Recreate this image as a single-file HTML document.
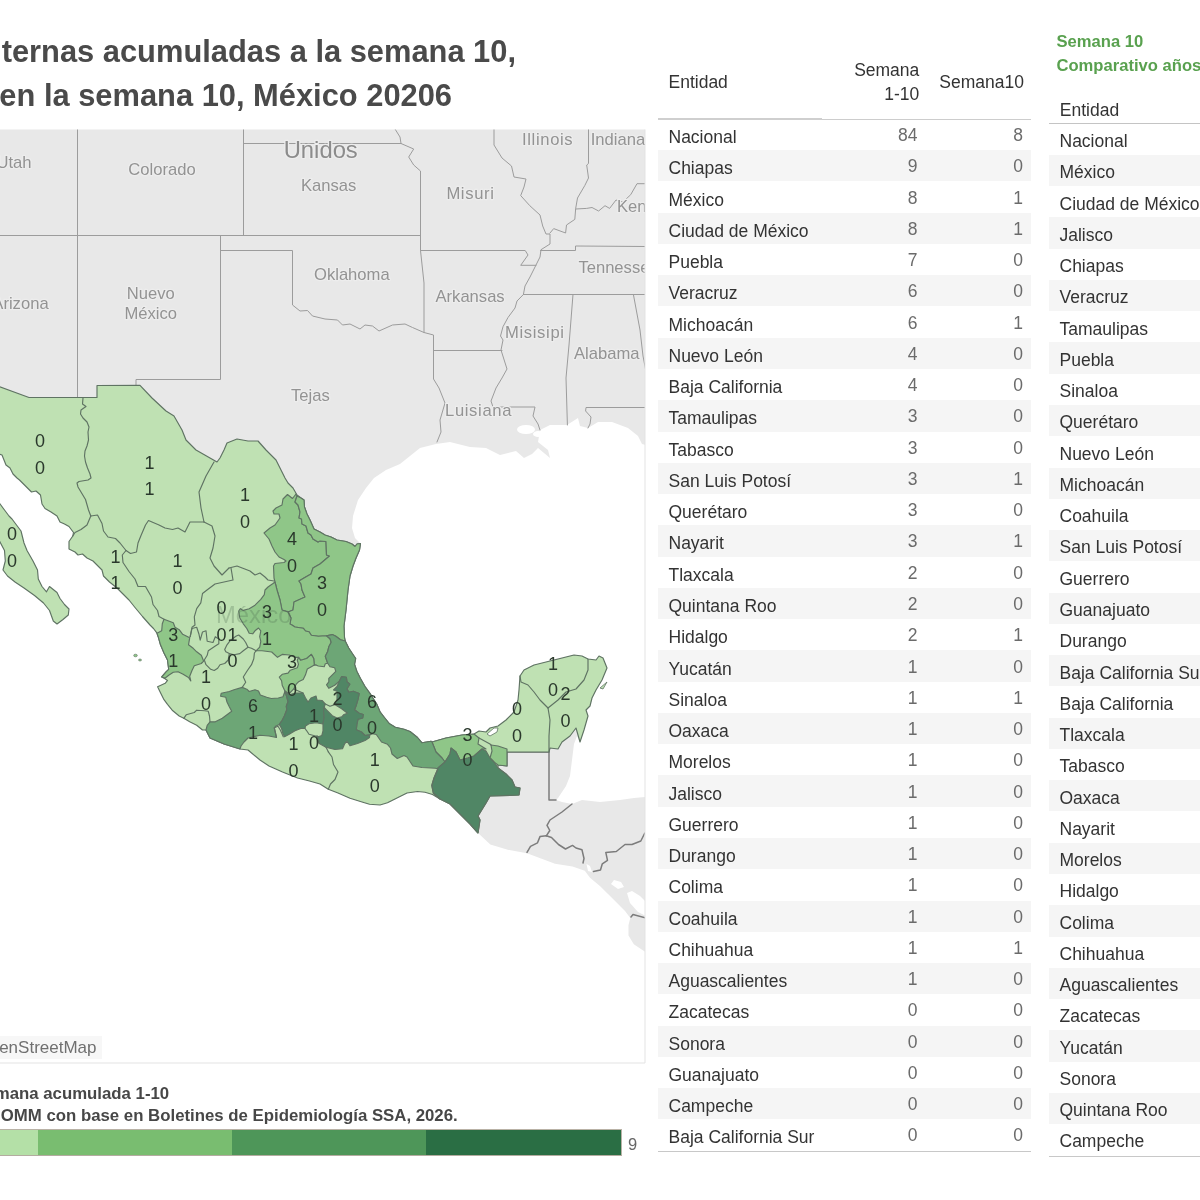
<!DOCTYPE html>
<html lang="es"><head><meta charset="utf-8"><title>Muertes maternas, México 2026</title>
<style>
html,body{margin:0;padding:0;background:#fff}
body{width:1200px;height:1200px;position:relative;overflow:hidden;font-family:"Liberation Sans",sans-serif;color:#333}
.map{position:absolute;left:0;top:0}
.title{position:absolute;white-space:nowrap;font-weight:700;font-size:30.85px;line-height:36px;color:#4a4a4a}
.t1{right:684px;top:33.8px}
.t2{right:748px;top:77.6px}
.lg{position:absolute;white-space:nowrap;font-weight:700;font-size:16.8px;line-height:20px;color:#474747}
.l1{right:1030.8px;top:1084px}
.l2{right:742.3px;top:1106px}
.bar{position:absolute;left:-1px;top:1129px;width:623px;height:25.5px;border-top:1px solid #b9b2a6;border-bottom:1.5px solid #b4aca0;border-right:1px solid #b9b2a6;display:flex;box-sizing:border-box;height:27px}
.bar i{display:block;height:100%}
.nine{position:absolute;left:628px;top:1134.5px;font-size:16.5px;line-height:18px;color:#666}
.osm{position:absolute;left:-60px;top:1035.5px;width:162px;height:23.5px;background:#f7f7f7;color:#707070;font-size:17px;line-height:23.5px;text-align:right;padding:.9px 5.5px 0 0;box-sizing:border-box;white-space:nowrap;overflow:hidden}
.tb{position:absolute;font-size:17.5px}
.tb .r{position:relative;height:31.2727px;white-space:nowrap}
.tb .r.s{background:#f5f5f5}
.tb .n{position:absolute;left:10.5px;top:7.4px;line-height:20px;color:#333}
.tb .a,.tb .b{position:absolute;top:6.1px;line-height:20px;color:#6b6b6b;text-align:right}
.tb .a{right:113.5px} .tb .b{right:8px}
#t1{left:658px;top:118.9px;width:373px}
#t1 .n{top:8.1px}
#t2{left:1049px;top:123.6px;width:160px}
.h{position:absolute;white-space:nowrap;font-size:17.5px;line-height:24px;color:#333}
.ln{position:absolute;height:0}
.gt{position:absolute;left:1056.5px;white-space:nowrap;font-weight:700;font-size:16.6px;line-height:20px;color:#59a14f}
</style></head><body>
<div class="title t1">ternas acumuladas a la semana 10,</div>
<div class="title t2">en la semana 10, México 20206</div>
<svg class="map" width="1200" height="1200" viewBox="0 0 1200 1200"><defs><clipPath id="mc"><rect x="0" y="129.5" width="645" height="933.5"/></clipPath></defs><g clip-path="url(#mc)"><rect x="0" y="129" width="646" height="935" fill="#fff"/><path d="M-1,129 L646,129 L646,445 L642,444 L638,436 L628,428 L612,422 L598,422 L588,428 L580,426 L578,418 L567,425 L550,425 L540,430 L538,442 L548,450 L550,458 L538,448 L532,454 L524,458 L516,451 L500,455 L486,448 L470,447 L450,442 L436,444 L420,448 L410,456 L400,464 L386,470 L374,478 L366,488 L358,500 L353,516 L352,528 L355,538 L360.5,543.5 L360.5,543.5 L359.5,550 L356,558 L353,566 L350,576 L348,590 L346,610 L344,626 L344.5,637.5 L345.2,641 L348.7,648 L353.3,655 L355.7,658.5 L354.5,664.3 L356.8,671.3 L360.3,678.3 L365,686.5 L370.8,694.7 L376.7,704 L380.2,712.2 L384.8,718 L389.5,723.8 L395.3,727.3 L404,729.3 L410,731.5 L417.5,737.5 L422,742.8 L431,741.3 L432,742 L446,738 L462,735 L474,734 L479,731 L486,732 L490,728 L498,726 L506,720 L514,712 L518,700 L519,690 L520,676 L524,670 L534,665 L550,661 L562,658 L574,655 L582,656 L588,659 L596,660 L599,656 L603,658 L607,668 L602,680 L596,690 L592,698 L590,706 L586,710 L588,716 L584,730 L580,742 L577,736 L574,744 L572,760 L570,776 L566,786 L558,798 L556,800 L562,802 L572,804 L582,800 L600,802 L620,800 L634,798 L646,797 L646,952 L644.3,951.3 L633.8,944.3 L628.5,935.5 L628.5,925 L630.3,918 L625,911 L616.3,902.3 L607.5,893.5 L600.5,886.5 L590,877.8 L584.8,870.8 L572.5,866.4 L555,863.8 L541,858.5 L527,853.3 L507.8,849.8 L490.3,844.5 L478,833 L470,824 L460,814 L450,804 L440,799 L432.5,794.5 L425,792.3 L417.5,791.5 L407,793 L398,797.5 L387.5,802.8 L380,805 L369.5,804.3 L362,802 L350,798.3 L338,793 L328.3,789.3 L320,784 L309.5,781 L297.5,778 L282.5,772 L269,766 L260,760 L248,750 L240,749 L224,744 L210,738 L206,730 L202.5,730 L196.7,725.3 L189.7,721.8 L183.8,718.3 L179.2,716 L172.2,710.2 L167.5,704.3 L164,699.7 L160.5,692.7 L157.6,686.8 L165.2,683.3 L167.5,680.4 L165,678.7 L161.7,677 L166.3,671.7 L168.7,669.3 L167.5,660 L164,653 L160.5,644.8 L158.2,636.7 L157,633.2 L153.5,628.5 L150,625 L142.5,616.5 L135,607.5 L129,600 L123,594 L117,588 L109.5,582 L103.5,576 L102,570 L97.5,565.5 L93,561 L87,558 L82.5,554 L78,555 L75,552 L69,549 L69,541.5 L72.8,536 L73.5,532.5 L69,526.5 L64.5,524 L60,522 L57,516 L51,512 L45,508.5 L42,504 L40.5,495 L36,491 L31.5,492 L25.5,486 L19.5,480 L17,478 L13,474 L10,468 L6,465 L4,460 L2,455 L-1,454Z" fill="#e8e8e8"/><path d="M611,884 L614,880 L621,882 L624,887 L618,889Z" fill="#fff"/><path d="M627,893 L632,891 L640,896 L646,902 L646,916 L638,912 L630,903Z" fill="#fff"/><path d="M586.5,864 L590,866 L592,872 L588,871Z" fill="#fff"/><ellipse cx="526" cy="429.5" rx="9" ry="4.5" fill="#fff"/><ellipse cx="538" cy="434" rx="5" ry="3" fill="#fff"/><g><path d="M77.5,129 L77.5,397.5" fill="none" stroke="#9c9c9c" stroke-width="1" stroke-linejoin="round" stroke-linecap="round"/><path d="M-1,235.5 L420.5,235.5" fill="none" stroke="#9c9c9c" stroke-width="1" stroke-linejoin="round" stroke-linecap="round"/><path d="M243.5,129 L243.5,235.5" fill="none" stroke="#9c9c9c" stroke-width="1" stroke-linejoin="round" stroke-linecap="round"/><path d="M243.5,143.5 L401,143.5" fill="none" stroke="#9c9c9c" stroke-width="1" stroke-linejoin="round" stroke-linecap="round"/><path d="M395,129 L400,137 L401,143.5 L413.7,149 L408.7,157 L413.7,165 L420.5,171 L420.5,250.5 L424,283 L424,332.5" fill="none" stroke="#9c9c9c" stroke-width="1" stroke-linejoin="round" stroke-linecap="round"/><path d="M420.5,250.5 L525.2,250.5 L528,255 L520.7,265.3 L536,265.3" fill="none" stroke="#9c9c9c" stroke-width="1" stroke-linejoin="round" stroke-linecap="round"/><path d="M220.5,235.5 L220.5,379.5 L136,379.5 L136,385.4" fill="none" stroke="#9c9c9c" stroke-width="1" stroke-linejoin="round" stroke-linecap="round"/><path d="M220.5,250.5 L292.5,250.5 L292.5,305 L300,311 L307.5,310.5 L312.5,316 L325,319 L337.5,320 L342.5,325 L350,324 L360,329 L365,325 L372.5,326 L379,331 L392.5,325 L405,324 L412.5,327.5 L424,332.5 L433.5,335 L433.5,379 L439,388 L445,403 L440,420 L441,432 L437,442" fill="none" stroke="#9c9c9c" stroke-width="1" stroke-linejoin="round" stroke-linecap="round"/><path d="M433.5,350.5 L502,350.5" fill="none" stroke="#9c9c9c" stroke-width="1" stroke-linejoin="round" stroke-linecap="round"/><path d="M494,129 L494,145 L502,158 L511.5,166 L514,177 L526,179 L524,187 L520.7,195.6 L529.8,205.7 L540,215 L542.7,226 L546,234 L550,234 L550,244 L541,249.7 L540,257 L536,265 L530,277 L525,286 L523.4,294.5 L517,301 L515,308 L508,317.5 L503,326.7 L500.5,336 L503,340 L501,350 L507,369 L502,378 L496,388 L491,401 L493,407 L535,407 L533,416 L538,424 L540,430" fill="none" stroke="#9c9c9c" stroke-width="1" stroke-linejoin="round" stroke-linecap="round"/><path d="M550,233 L553.7,228.6 L565.6,233 L566.5,225 L574.8,219.4 L575.7,208.4 L577.5,198 L584.8,185.5 L588.5,178 L586.7,165 L588.5,163.5 L588.5,129" fill="none" stroke="#9c9c9c" stroke-width="1" stroke-linejoin="round" stroke-linecap="round"/><path d="M575.7,209 L586.7,208.4 L592,207.5 L598.6,211 L605,205.7 L609.6,208.4 L616,200 L623,202 L630.7,194.7 L637,183.7 L646,183.7" fill="none" stroke="#9c9c9c" stroke-width="1" stroke-linejoin="round" stroke-linecap="round"/><path d="M540.5,250.5 L575.5,250.5 L575.5,246 L646,246.5" fill="none" stroke="#9c9c9c" stroke-width="1" stroke-linejoin="round" stroke-linecap="round"/><path d="M523.4,294.5 L646,294.5" fill="none" stroke="#9c9c9c" stroke-width="1" stroke-linejoin="round" stroke-linecap="round"/><path d="M573,294.5 L569,345 L566,378 L567.4,425" fill="none" stroke="#9c9c9c" stroke-width="1" stroke-linejoin="round" stroke-linecap="round"/><path d="M633.4,294.5 L640,330 L643,356 L646,372" fill="none" stroke="#9c9c9c" stroke-width="1" stroke-linejoin="round" stroke-linecap="round"/><path d="M646,407.5 L586,407.5 L585.6,411 L591,417 L590,424 L588,428" fill="none" stroke="#9c9c9c" stroke-width="1" stroke-linejoin="round" stroke-linecap="round"/></g><g><path d="M507,752 L549,752 L549,800 L556,800" fill="none" stroke="#7c7c7c" stroke-width="1.5" stroke-linejoin="round" stroke-linecap="round"/><path d="M572,804 L562,812 L550,820 L547,825.3 L549.8,830.5 L546.3,835.8" fill="none" stroke="#7c7c7c" stroke-width="1.5" stroke-linejoin="round" stroke-linecap="round"/><path d="M546.3,835.8 L540,836.6 L537.5,842.8 L530.5,846.3 L527,852.4" fill="none" stroke="#7c7c7c" stroke-width="1.5" stroke-linejoin="round" stroke-linecap="round"/><path d="M546.3,835.8 L551.5,837.5 L558.5,844.5 L565.5,849 L572.5,845.4 L576,848 L582,849.8 L584,858.5 L583,863" fill="none" stroke="#7c7c7c" stroke-width="1.5" stroke-linejoin="round" stroke-linecap="round"/><path d="M646,832 L644.3,834 L640.8,841 L632,844.5 L625,844.5 L616.3,851.5 L605.8,852.4 L607.5,860.3 L602.3,863.8 L600.5,870 L593.5,871.6" fill="none" stroke="#7c7c7c" stroke-width="1.5" stroke-linejoin="round" stroke-linecap="round"/><path d="M631,917 L633,914.5 L646,918" fill="none" stroke="#7c7c7c" stroke-width="1.5" stroke-linejoin="round" stroke-linecap="round"/></g><g font-family="'Liberation Sans',sans-serif" fill="#939393" stroke="#ededed" stroke-width="2.5" paint-order="stroke" stroke-linejoin="round"><text x="31.5" y="168" font-size="16.6" text-anchor="end">Utah</text><text x="128.3" y="175.4" font-size="16.6" text-anchor="start">Colorado</text><text x="48.6" y="309.3" font-size="16.6" text-anchor="end">Arizona</text><text x="150.7" y="299.2" font-size="16.6" text-anchor="middle">Nuevo</text><text x="150.7" y="319.3" font-size="16.6" text-anchor="middle">México</text><text x="283.7" y="157.5" font-size="23.8" text-anchor="start" fill="#8c8c8c">Unidos</text><text x="301" y="191" font-size="16.6" text-anchor="start">Kansas</text><text x="446.4" y="198.5" font-size="16.6" text-anchor="start" letter-spacing=".65">Misuri</text><text x="314" y="280" font-size="16.6" text-anchor="start">Oklahoma</text><text x="435.5" y="302" font-size="16.6" text-anchor="start">Arkansas</text><text x="291" y="401" font-size="16.6" text-anchor="start">Tejas</text><text x="445" y="416" font-size="16.6" text-anchor="start" letter-spacing=".65">Luisiana</text><text x="522" y="144.8" font-size="16.6" text-anchor="start" letter-spacing=".65">Illinois</text><text x="590.7" y="144.8" font-size="16.6" text-anchor="start">Indiana</text><text x="617" y="212" font-size="16.6" text-anchor="start">Kentucky</text><text x="578.4" y="272.6" font-size="16.6" text-anchor="start">Tennessee</text><text x="505" y="337.7" font-size="16.6" text-anchor="start" letter-spacing=".65">Misisipi</text><text x="574" y="359" font-size="16.6" text-anchor="start">Alabama</text></g><path d="M-1,386.6 L29,397.5 L97,397.5 L97,385.5 L140,385.4 L152,398 L166,411 L174,416 L182,430 L186,440 L196,450 L210,458 L217,462 L220,458 L224,450 L227,443 L237,439 L248,441 L258,441 L266,450 L276,460 L281,470 L285,478 L288,483 L293,488 L297,495 L301,498 L304,500 L304.5,507 L307,514 L310,520 L314,529 L320,532 L325,535 L331,537 L337,540 L346,541.5 L352,544 L355,546.5 L357,544 L360.5,543.5 L360.5,543.5 L359.5,550 L356,558 L353,566 L350,576 L348,590 L346,610 L344,626 L344.5,637.5 L345.2,641 L348.7,648 L353.3,655 L355.7,658.5 L354.5,664.3 L356.8,671.3 L360.3,678.3 L365,686.5 L370.8,694.7 L376.7,704 L380.2,712.2 L384.8,718 L389.5,723.8 L395.3,727.3 L404,729.3 L410,731.5 L417.5,737.5 L422,742.8 L431,741.3 L432,742 L446,738 L462,735 L474,734 L479,731 L486,732 L490,728 L498,726 L506,720 L514,712 L518,700 L519,690 L520,676 L524,670 L534,665 L550,661 L562,658 L574,655 L582,656 L588,659 L596,660 L599,656 L603,658 L607,668 L602,680 L596,690 L592,698 L590,706 L586,710 L588,716 L584,730 L580,742 L576,728 L570,736 L562,742 L558,749 L550,748 L549,752 L507,752 L507,766 L498,765 L498,768 L506,774 L512,780 L515,787 L520,788 L519,795 L490,796 L486,803 L478,816 L480,820 L478,833 L470,824 L460,814 L450,804 L440,799 L432.5,794.5 L425,792.3 L417.5,791.5 L407,793 L398,797.5 L387.5,802.8 L380,805 L369.5,804.3 L362,802 L350,798.3 L338,793 L328.3,789.3 L320,784 L309.5,781 L297.5,778 L282.5,772 L269,766 L260,760 L248,750 L240,749 L224,744 L210,738 L206,730 L202.5,730 L196.7,725.3 L189.7,721.8 L183.8,718.3 L179.2,716 L172.2,710.2 L167.5,704.3 L164,699.7 L160.5,692.7 L157.6,686.8 L165.2,683.3 L167.5,680.4 L165,678.7 L161.7,677 L166.3,671.7 L168.7,669.3 L167.5,660 L164,653 L160.5,644.8 L158.2,636.7 L157,633.2 L153.5,628.5 L150,625 L142.5,616.5 L135,607.5 L129,600 L123,594 L117,588 L109.5,582 L103.5,576 L102,570 L97.5,565.5 L93,561 L87,558 L82.5,554 L78,555 L75,552 L69,549 L69,541.5 L72.8,536 L73.5,532.5 L69,526.5 L64.5,524 L60,522 L57,516 L51,512 L45,508.5 L42,504 L40.5,495 L36,491 L31.5,492 L25.5,486 L19.5,480 L17,478 L13,474 L10,468 L6,465 L4,460 L2,455 L-1,454Z" fill="#bfe1b3" stroke="#5f7363" stroke-width="1.15" stroke-linejoin="round"/><path d="M-1,502.5 L4.5,510 L9,516 L12,519 L16.5,525 L21,531 L24,543 L27,550.5 L33,561 L37.5,570 L38.3,579 L42,586.5 L46.5,591.8 L49.5,586.5 L57,592.5 L60,598.5 L64.5,604.5 L69,609 L68.3,615 L63,619.5 L57,624 L53.3,621 L49.5,610.5 L43.5,603 L34.5,595.5 L24,588 L15,582 L7.5,576 L3,570 L5.3,561 L4.5,550.5 L-1,540Z" fill="#bfe1b3" stroke="#5f7363" stroke-width="1.15" stroke-linejoin="round"/><path d="M487,734 L494,728 L498,728 L497,732 L490,736Z" fill="#fff" stroke="#5f7363" stroke-width=".8"/><path d="M600,688 L607,682 L603,689Z" fill="#bfe1b3" stroke="#5f7363" stroke-width="0.8" stroke-linejoin="round"/><ellipse cx="135.5" cy="655.5" rx="1.8" ry="1.3" fill="#8fc688" stroke="#5f7363" stroke-width=".6"/><ellipse cx="140" cy="660" rx="1.5" ry="1" fill="#8fc688" stroke="#5f7363" stroke-width=".6"/><path d="M287.5,494.5 L283,499 L282,505 L276,508 L273,511 L274,514 L279,514 L280,518 L275,525 L270,528 L264,533 L269,539 L272,546 L275,552 L279,557 L284,559.5 L286,561 L284,562.5 L275,563.5 L273.5,566 L274,578 L275,582 L277,590 L280,600 L282,610 L288,612 L293,610 L294,602 L305,597 L302,590 L301,584 L299,581 L304,578 L311,574 L313,568 L320,564 L329.5,556 L326.5,555 L326,541.5 L320,541 L318,542 L313,539 L311,535 L308,533 L306,526 L302,524 L301.5,519 L299,518 L300,512 L298,505 L295,502 L297,496 L296,494 L292.5,498.5Z" fill="#8fc688" stroke="#5f7363" stroke-width="1.15" stroke-linejoin="round"/><path d="M297,496 L301,498 L304,500 L304.5,507 L307,514 L310,520 L314,529 L320,532 L325,535 L331,537 L337,540 L346,541.5 L352,544 L355,546.5 L357,544 L360.5,543.5 L359.5,550 L356,558 L353,566 L350,576 L348,590 L346,610 L344,626 L344.5,637.5 L345.2,641 L340.5,639.8 L335.8,636.3 L332.3,634.6 L326.5,635.8 L318.3,636.3 L311.3,635.2 L309,631.7 L305.5,631 L303.2,628.2 L295,627 L291.5,624.7 L290,624 L291,618 L288,612 L293,610 L294,602 L305,597 L302,590 L301,584 L299,581 L304,578 L311,574 L313,568 L320,564 L329.5,556 L326.5,555 L326,541.5 L320,541 L318,542 L313,539 L311,535 L308,533 L306,526 L302,524 L301.5,519 L299,518 L300,512 L298,505 L295,502Z" fill="#8fc688" stroke="#5f7363" stroke-width="1.15" stroke-linejoin="round"/><path d="M275,582 L277,590 L280,600 L282,610 L288,612 L291,618 L290,624 L291.5,624.7 L295,627 L303.2,628.2 L305.5,631 L309,631.7 L311.3,635.2 L318.3,636.3 L326.5,635.8 L330,638.7 L331.2,642.2 L328.8,646.8 L327.7,651.5 L325.3,656.2 L327.7,663.2 L325.3,663.8 L324.2,666.7 L318.3,666 L316,665 L314.3,665 L313.7,658.5 L311.3,654.4 L306.7,658.5 L300.8,660.3 L298.5,657.3 L295,657.3 L289.2,655 L282.2,654.4 L277.5,657.3 L271.7,652 L262,650.7 L256.2,650.7 L259.7,647.2 L260.8,641.3 L259.7,636.7 L260.8,630.8 L258.5,628 L255,630.8 L252.7,633.8 L249.2,633.2 L246.8,628.5 L243.3,623.8 L239.8,618 L238.7,611 L240.4,608.7 L243.3,610.4 L249.2,608.7 L255,605.2 L260.8,599.3 L264.3,594.7 L265,590 L268,587 L273,583.5Z" fill="#8fc688" stroke="#5f7363" stroke-width="1.15" stroke-linejoin="round"/><path d="M164,619.2 L173.3,622.7 L175,627.3 L179.2,629.7 L182.7,634.3 L189.7,637.8 L188.5,644.8 L193.2,648.3 L196.7,651.8 L201.3,655.3 L203.7,661.2 L201.3,663.5 L194.3,665.8 L192,670.5 L189.7,676.3 L190.8,681 L188.5,677.5 L182.7,674 L178,671.7 L173.3,672.3 L168.7,675.2 L165.2,678 L161.7,677 L166.3,671.7 L168.7,669.3 L167.5,660 L164,653 L160.5,644.8 L158.2,636.7 L157,633.2 L161.7,630.8 L162.3,623.8Z" fill="#8fc688" stroke="#5f7363" stroke-width="1.15" stroke-linejoin="round"/><path d="M298.5,657.3 L300.8,660.3 L306.7,658.5 L311.3,654.4 L313.7,658.5 L314.3,664.9 L311.3,666.7 L307.3,669 L305.5,674.8 L303.2,679.5 L298.5,681.8 L296.2,684.2 L293.8,688.8 L289.2,693.5 L285,691.2 L282.2,685.3 L281.6,680.7 L279.3,677.2 L282.2,674.3 L288,673.1 L290.3,670.2 L297.3,667.8 L298.5,664.3 L297.3,660.3Z" fill="#8fc688" stroke="#5f7363" stroke-width="1.15" stroke-linejoin="round"/><path d="M432,742 L446,738 L462,735 L474,734 L479,738 L478,744 L486,749 L482,749 L474,756 L468,758 L460,760 L456,752 L451,748 L450,754 L445,762 L442,758 L436,752Z" fill="#8fc688" stroke="#5f7363" stroke-width="1.15" stroke-linejoin="round"/><path d="M491,745 L498,746 L507,749 L507,766 L498,765 L494,762 L490,758 L492,751Z" fill="#8fc688" stroke="#5f7363" stroke-width="1.15" stroke-linejoin="round"/><path d="M220.6,696.2 L221.2,693.3 L229.3,691.5 L234,689.8 L242.2,687.4 L246.8,689.2 L249.2,691.5 L255,689.8 L258.5,691 L260.3,695 L266.7,697.3 L271.3,698.5 L278.3,698 L283,696.8 L285,691.2 L286.8,697 L288,701.7 L286.3,706.3 L286.8,709.8 L284.5,715.7 L282.2,720.3 L279.3,724.4 L276,726 L274.3,727.8 L276.5,737.5 L269,736 L260,735.3 L248,738 L244,742 L241,746 L240,749 L224,744 L210,738 L206,730 L207.2,725.3 L210,721.8 L215.3,721.8 L222.3,718.3 L227,714.8 L231.7,711.3 L229.3,706.7 L227,702 L225.8,697.3Z" fill="#6da676" stroke="#5f7363" stroke-width="1.15" stroke-linejoin="round"/><path d="M345.2,641 L340.5,639.8 L335.8,636.3 L332.3,634.6 L326.5,635.8 L330,638.7 L331.2,642.2 L328.8,646.8 L327.7,651.5 L325.3,656.2 L327.7,663.2 L330,666.7 L334.7,667.8 L335.8,671.3 L332.3,674.8 L328.8,678.3 L328.8,681.8 L326.5,684.8 L328.8,688.3 L334.7,685.3 L339.3,681.3 L341.7,676.6 L346.3,677.2 L347,681.8 L349.8,684.2 L347,688.8 L348.7,692.3 L353.3,691.2 L359.2,693.5 L358,699.3 L356.3,705.2 L354.5,709.8 L359.2,713.3 L363.3,714.5 L362.7,718 L358,719.2 L356.8,725 L356.3,729.7 L361.5,732 L365,735.5 L369.7,734.9 L372.5,733.8 L376.3,734.5 L381.5,742 L387.5,744.3 L390.5,748 L392,754 L397.3,758.5 L404,755.5 L407,757 L410,761.5 L413,766 L422,767.5 L435.5,768.3 L437.8,769 L438,768 L445,762 L442,758 L436,752 L432,742 L431,741.3 L422,742.8 L417.5,737.5 L410,731.5 L404,729.3 L395.3,727.3 L389.5,723.8 L384.8,718 L380.2,712.2 L376.7,704 L370.8,694.7 L365,686.5 L360.3,678.3 L356.8,671.3 L354.5,664.3 L355.7,658.5 L353.3,655 L348.7,648 L345.2,641Z" fill="#6da676" stroke="#5f7363" stroke-width="1.15" stroke-linejoin="round"/><path d="M285,691 L289,695 L295,693 L303,693 L305.5,698 L308,702 L311,698 L316,696 L317,700 L322,700.5 L325.3,704 L324.2,707 L323.6,711 L324.2,717 L323,724 L316,722.7 L309,723.8 L305.5,726 L305,728.5 L300.8,728.5 L295,730.8 L289.2,734.3 L284.5,736.7 L282.8,733.2 L281.6,728.5 L279.3,724.4 L282.2,720.3 L284.5,715.7 L286.8,709.8 L286.3,706.3 L288,701.7 L286.8,697Z" fill="#508665" stroke="#5f7363" stroke-width="1.15" stroke-linejoin="round"/><path d="M341.7,676.6 L346.3,677.2 L347,681.8 L349.8,684.2 L347,688.8 L348.7,692.3 L353.3,691.2 L359.2,693.5 L358,699.3 L356.3,705.2 L354.5,709.8 L359.2,713.3 L363.3,714.5 L362.7,718 L358,719.2 L356.8,725 L356.3,729.7 L361.5,732 L365,735.5 L369.7,734.9 L369.5,737.5 L365,740.5 L357.5,743.5 L350,745.8 L347,741.3 L344.8,743.5 L342.5,748.8 L335,749.5 L326,747.3 L319.3,743.5 L317,736 L318.3,736.7 L321.8,735.5 L323,730.8 L323,723.8 L324.2,716.8 L323.6,711 L324.2,707 L325.3,708.7 L328.8,712.2 L332.3,715.7 L337,718 L341.7,716.8 L344,714.5 L347.5,713.3 L341.7,708.7 L334.7,704.6 L337,700 L337,691.2 L333.5,690 L337,686.5 L339.3,681.3Z" fill="#508665" stroke="#5f7363" stroke-width="1.15" stroke-linejoin="round"/><path d="M451,748 L456,752 L460,760 L468,758 L474,756 L482,749 L486,751 L490,758 L494,762 L498,768 L506,774 L512,780 L515,787 L520,788 L519,795 L490,796 L486,803 L478,816 L480,820 L478,833 L470,824 L460,814 L450,804 L440,799 L433.3,793 L431.8,785.5 L434,778 L437.8,769 L438,768 L445,762 L450,754Z" fill="#508665" stroke="#5f7363" stroke-width="1.15" stroke-linejoin="round"/><g><path d="M83,398 L82.5,404 L86,406.5 L81,410 L80.5,414 L83,418 L87,422 L89,427 L88,432 L88.5,440 L87,446 L85,451 L84.5,456 L85.5,462 L87.5,468 L90,474 L91,478 L88,480 L79,481.5 L77,483 L78,487 L81,492 L85.5,499.5 L88.5,510 L90.8,516" fill="none" stroke="#5f7363" stroke-width="1.15" stroke-linejoin="round" stroke-linecap="round"/><path d="M90.8,516 L87,525 L81,529.5 L75,532.5 L72.8,536" fill="none" stroke="#5f7363" stroke-width="1.15" stroke-linejoin="round" stroke-linecap="round"/><path d="M90.8,516 L97.5,515 L102,523.5 L103.5,531 L108,537 L115.5,538.5 L120,543 L126,550.5" fill="none" stroke="#5f7363" stroke-width="1.15" stroke-linejoin="round" stroke-linecap="round"/><path d="M126,550.5 L130.5,553.5 L136.5,552 L138,543 L141,535.5 L145.5,525 L148.5,520.5 L159,525 L165,528 L172.5,529.5 L178,528 L185,532 L190,522 L204,522" fill="none" stroke="#5f7363" stroke-width="1.15" stroke-linejoin="round" stroke-linecap="round"/><path d="M214,462 L206,476 L199,492 L201,508 L204,522" fill="none" stroke="#5f7363" stroke-width="1.15" stroke-linejoin="round" stroke-linecap="round"/><path d="M204,522 L212,526 L215,536 L213,548 L210,558 L214,566 L222,575 L229,568" fill="none" stroke="#5f7363" stroke-width="1.15" stroke-linejoin="round" stroke-linecap="round"/><path d="M229,568 L237,566 L250,571 L255,575 L260,573 L265,577 L268,580 L274,581" fill="none" stroke="#5f7363" stroke-width="1.15" stroke-linejoin="round" stroke-linecap="round"/><path d="M231,568 L233,580 L215,584 L207,590 L202.5,593.5 L200.8,602.8 L196.7,608.7 L194.3,616.8 L195,625 L192,627.3 L190.2,636.7" fill="none" stroke="#5f7363" stroke-width="1.15" stroke-linejoin="round" stroke-linecap="round"/><path d="M126,550.5 L122.3,555 L123,562.5 L129,571.5 L135,579 L138,586.5 L145.5,586.5 L151.5,597 L153,604.5 L157.5,610.5 L159,616.5 L164,619.2" fill="none" stroke="#5f7363" stroke-width="1.15" stroke-linejoin="round" stroke-linecap="round"/><path d="M190.2,636.7 L192,628.5 L196.7,627.3 L199,634.3 L200.2,640.2 L202.5,632 L206,630.8 L207.2,641.3 L213,642.5 L215.3,636.7 L218.8,639 L218.8,643.7 L215.3,646 L208.3,650.7 L207.2,655.3 L204.3,660 L206,664.7 L210.7,669.3 L214.2,670.5 L217.7,668.2 L220,664.7 L224.7,663.5 L228.2,660 L229.3,653.6" fill="none" stroke="#5f7363" stroke-width="1.15" stroke-linejoin="round" stroke-linecap="round"/><path d="M236.3,636 L238.7,635 L243.3,639 L245.7,642.5 L248,647.2 L243.3,650.7 L239.8,653.6 L234,654.8 L229.3,653.6 L225.8,651.8 L224.7,649.5 L227,644.8 L230.5,640.2 L236.3,636" fill="none" stroke="#5f7363" stroke-width="1.15" stroke-linejoin="round" stroke-linecap="round"/><path d="M248,647.2 L251.5,648.3 L256.2,650.7" fill="none" stroke="#5f7363" stroke-width="1.15" stroke-linejoin="round" stroke-linecap="round"/><path d="M256.2,650.7 L254.4,653 L253.8,658.8 L251.5,664.7 L247.4,670.5 L243.3,677 L245.7,682.2 L242.2,687.4" fill="none" stroke="#5f7363" stroke-width="1.15" stroke-linejoin="round" stroke-linecap="round"/><path d="M183.8,718.3 L186.2,714.8 L194.3,712.5 L196.7,710.2 L204.8,710.8 L208.3,711.3 L209.5,716 L210,721.8" fill="none" stroke="#5f7363" stroke-width="1.15" stroke-linejoin="round" stroke-linecap="round"/><path d="M316,665 L314.3,665" fill="none" stroke="#5f7363" stroke-width="1.15" stroke-linejoin="round" stroke-linecap="round"/><path d="M293.8,688.8 L296,690 L303,693" fill="none" stroke="#5f7363" stroke-width="1.15" stroke-linejoin="round" stroke-linecap="round"/><path d="M325.3,704 L330,706.3 L334.7,704.6" fill="none" stroke="#5f7363" stroke-width="1.15" stroke-linejoin="round" stroke-linecap="round"/><path d="M305,728.5 L306.7,730.8 L309,734.3 L313.7,735.5 L318.3,736.7" fill="none" stroke="#5f7363" stroke-width="1.15" stroke-linejoin="round" stroke-linecap="round"/><path d="M276.5,737.5 L274.3,727.8 L278,726.3 L280.3,730 L283.3,736.8" fill="none" stroke="#5f7363" stroke-width="1.15" stroke-linejoin="round" stroke-linecap="round"/><path d="M317,736 L319.3,743.5" fill="none" stroke="#5f7363" stroke-width="1.15" stroke-linejoin="round" stroke-linecap="round"/><path d="M328.3,751.8 L332,757 L333.5,764.5 L338,772 L335,779.5 L330.5,784 L328.3,789.3" fill="none" stroke="#5f7363" stroke-width="1.15" stroke-linejoin="round" stroke-linecap="round"/><path d="M326,747.3 L328.3,751.8" fill="none" stroke="#5f7363" stroke-width="1.15" stroke-linejoin="round" stroke-linecap="round"/><path d="M437.8,769 L434,778 L431.8,785.5 L433.3,793 L440,799" fill="none" stroke="#5f7363" stroke-width="1.15" stroke-linejoin="round" stroke-linecap="round"/><path d="M479,738 L490,744 L491,745" fill="none" stroke="#5f7363" stroke-width="1.15" stroke-linejoin="round" stroke-linecap="round"/><path d="M520,676 L521,682 L528,685 L534,692 L540,700 L548,708" fill="none" stroke="#5f7363" stroke-width="1.15" stroke-linejoin="round" stroke-linecap="round"/><path d="M548,708 L550,720 L549,736 L549,752" fill="none" stroke="#5f7363" stroke-width="1.15" stroke-linejoin="round" stroke-linecap="round"/><path d="M588,659 L588,670 L584,680 L576,689 L566,692 L558,700 L548,708" fill="none" stroke="#5f7363" stroke-width="1.15" stroke-linejoin="round" stroke-linecap="round"/></g><text x="216" y="623" font-family="'Liberation Sans',sans-serif" font-size="23.8" fill="#4d6b50" opacity=".27">México</text><g font-family="'Liberation Sans',sans-serif" font-size="18" fill="#2a382c" text-anchor="middle"><text x="40" y="446.5">0</text><text x="40" y="473.5">0</text><text x="149.6" y="469">1</text><text x="149.6" y="495">1</text><text x="12" y="540">0</text><text x="12" y="567">0</text><text x="115.6" y="563">1</text><text x="115.6" y="589">1</text><text x="177.6" y="567">1</text><text x="177.6" y="594">0</text><text x="245" y="501">1</text><text x="245" y="528">0</text><text x="292" y="545">4</text><text x="292" y="571.5">0</text><text x="322" y="589">3</text><text x="322" y="616">0</text><text x="267" y="618">3</text><text x="267" y="645">1</text><text x="221.6" y="614">0</text><text x="221.6" y="640.8">0</text><text x="232.6" y="640.8">1</text><text x="232.6" y="667">0</text><text x="173.3" y="640.8">3</text><text x="173.3" y="667">1</text><text x="206" y="682.8">1</text><text x="206" y="710.2">0</text><text x="253" y="712">6</text><text x="253" y="739">1</text><text x="292" y="668.4">3</text><text x="292" y="695.8">0</text><text x="337.5" y="704.6">2</text><text x="337.5" y="731.4">0</text><text x="314" y="721.5">1</text><text x="314" y="748.5">0</text><text x="372" y="707.5">6</text><text x="372" y="734.3">0</text><text x="293.5" y="750.3">1</text><text x="293.5" y="776.5">0</text><text x="374.8" y="766">1</text><text x="374.8" y="791.5">0</text><text x="467.4" y="741">3</text><text x="467.4" y="766.4">0</text><text x="517" y="715.4">0</text><text x="517" y="742.4">0</text><text x="553" y="670.4">1</text><text x="553" y="696.4">0</text><text x="565.6" y="700">2</text><text x="565.6" y="726.6">0</text></g></g><path d="M645,129.5 V1063 H0" fill="none" stroke="#e3e3e3" stroke-width="1"/></svg>
<div class="osm">© OpenStreetMap</div>
<div class="lg l1">Semana acumulada 1-10</div>
<div class="lg l2">OMM con base en Boletines de Epidemiología SSA, 2026.</div>
<div class="bar"><i style="width:39.3px;background:#b4e0a7"></i><i style="width:193.7px;background:#79bd70"></i><i style="width:194.3px;background:#4e9659"></i><i style="flex:1;background:#2a6e44"></i></div>
<div class="nine">9</div>

<div class="h" style="left:668.5px;top:69.5px">Entidad</div>
<div class="h" style="right:280.7px;top:58px;text-align:right">Semana<br>1-10</div>
<div class="h" style="right:176px;top:69.5px">Semana10</div>
<div class="ln" style="left:658px;width:164px;top:118.3px;border-top:2px solid #cfcfcf"></div>
<div class="ln" style="left:822px;width:209px;top:118.8px;border-top:1px solid #cdcdcd"></div>
<div class="tb" id="t1"><div class="r"><span class="n">Nacional</span><span class="a">84</span><span class="b">8</span></div><div class="r s"><span class="n">Chiapas</span><span class="a">9</span><span class="b">0</span></div><div class="r"><span class="n">México</span><span class="a">8</span><span class="b">1</span></div><div class="r s"><span class="n">Ciudad de México</span><span class="a">8</span><span class="b">1</span></div><div class="r"><span class="n">Puebla</span><span class="a">7</span><span class="b">0</span></div><div class="r s"><span class="n">Veracruz</span><span class="a">6</span><span class="b">0</span></div><div class="r"><span class="n">Michoacán</span><span class="a">6</span><span class="b">1</span></div><div class="r s"><span class="n">Nuevo León</span><span class="a">4</span><span class="b">0</span></div><div class="r"><span class="n">Baja California</span><span class="a">4</span><span class="b">0</span></div><div class="r s"><span class="n">Tamaulipas</span><span class="a">3</span><span class="b">0</span></div><div class="r"><span class="n">Tabasco</span><span class="a">3</span><span class="b">0</span></div><div class="r s"><span class="n">San Luis Potosí</span><span class="a">3</span><span class="b">1</span></div><div class="r"><span class="n">Querétaro</span><span class="a">3</span><span class="b">0</span></div><div class="r s"><span class="n">Nayarit</span><span class="a">3</span><span class="b">1</span></div><div class="r"><span class="n">Tlaxcala</span><span class="a">2</span><span class="b">0</span></div><div class="r s"><span class="n">Quintana Roo</span><span class="a">2</span><span class="b">0</span></div><div class="r"><span class="n">Hidalgo</span><span class="a">2</span><span class="b">1</span></div><div class="r s"><span class="n">Yucatán</span><span class="a">1</span><span class="b">0</span></div><div class="r"><span class="n">Sinaloa</span><span class="a">1</span><span class="b">1</span></div><div class="r s"><span class="n">Oaxaca</span><span class="a">1</span><span class="b">0</span></div><div class="r"><span class="n">Morelos</span><span class="a">1</span><span class="b">0</span></div><div class="r s"><span class="n">Jalisco</span><span class="a">1</span><span class="b">0</span></div><div class="r"><span class="n">Guerrero</span><span class="a">1</span><span class="b">0</span></div><div class="r s"><span class="n">Durango</span><span class="a">1</span><span class="b">0</span></div><div class="r"><span class="n">Colima</span><span class="a">1</span><span class="b">0</span></div><div class="r s"><span class="n">Coahuila</span><span class="a">1</span><span class="b">0</span></div><div class="r"><span class="n">Chihuahua</span><span class="a">1</span><span class="b">1</span></div><div class="r s"><span class="n">Aguascalientes</span><span class="a">1</span><span class="b">0</span></div><div class="r"><span class="n">Zacatecas</span><span class="a">0</span><span class="b">0</span></div><div class="r s"><span class="n">Sonora</span><span class="a">0</span><span class="b">0</span></div><div class="r"><span class="n">Guanajuato</span><span class="a">0</span><span class="b">0</span></div><div class="r s"><span class="n">Campeche</span><span class="a">0</span><span class="b">0</span></div><div class="r"><span class="n">Baja California Sur</span><span class="a">0</span><span class="b">0</span></div></div>
<div class="ln" style="left:658px;width:373px;top:1151px;border-top:1.5px solid #c8c8c8"></div>

<div class="gt" style="top:31.5px">Semana 10</div>
<div class="gt" style="top:55.8px">Comparativo años</div>
<div class="h" style="left:1059.8px;top:97.5px">Entidad</div>
<div class="ln" style="left:1049px;width:160px;top:122.8px;border-top:1.5px solid #c4c4c4"></div>
<div class="tb" id="t2"><div class="r"><span class="n">Nacional</span></div><div class="r s"><span class="n">México</span></div><div class="r"><span class="n">Ciudad de México</span></div><div class="r s"><span class="n">Jalisco</span></div><div class="r"><span class="n">Chiapas</span></div><div class="r s"><span class="n">Veracruz</span></div><div class="r"><span class="n">Tamaulipas</span></div><div class="r s"><span class="n">Puebla</span></div><div class="r"><span class="n">Sinaloa</span></div><div class="r s"><span class="n">Querétaro</span></div><div class="r"><span class="n">Nuevo León</span></div><div class="r s"><span class="n">Michoacán</span></div><div class="r"><span class="n">Coahuila</span></div><div class="r s"><span class="n">San Luis Potosí</span></div><div class="r"><span class="n">Guerrero</span></div><div class="r s"><span class="n">Guanajuato</span></div><div class="r"><span class="n">Durango</span></div><div class="r s"><span class="n">Baja California Sur</span></div><div class="r"><span class="n">Baja California</span></div><div class="r s"><span class="n">Tlaxcala</span></div><div class="r"><span class="n">Tabasco</span></div><div class="r s"><span class="n">Oaxaca</span></div><div class="r"><span class="n">Nayarit</span></div><div class="r s"><span class="n">Morelos</span></div><div class="r"><span class="n">Hidalgo</span></div><div class="r s"><span class="n">Colima</span></div><div class="r"><span class="n">Chihuahua</span></div><div class="r s"><span class="n">Aguascalientes</span></div><div class="r"><span class="n">Zacatecas</span></div><div class="r s"><span class="n">Yucatán</span></div><div class="r"><span class="n">Sonora</span></div><div class="r s"><span class="n">Quintana Roo</span></div><div class="r"><span class="n">Campeche</span></div></div>
<div class="ln" style="left:1049px;width:160px;top:1155.6px;border-top:1.5px solid #c8c8c8"></div>
</body></html>
